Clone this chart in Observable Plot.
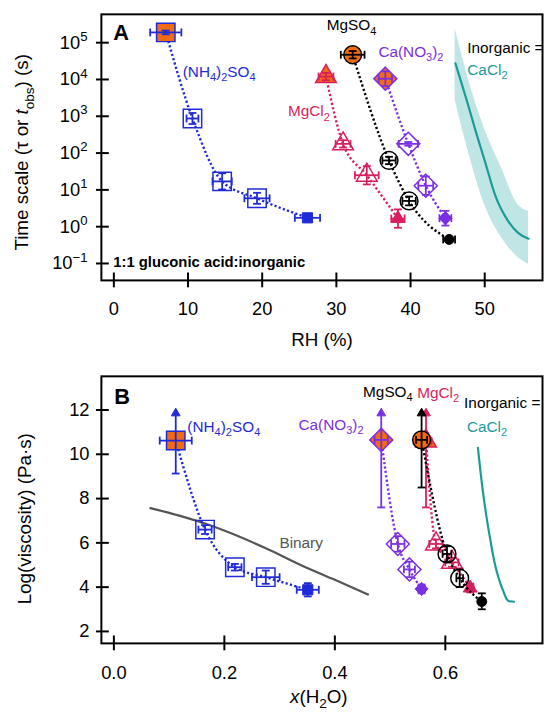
<!DOCTYPE html>
<html><head><meta charset="utf-8">
<script src="https://cdn.jsdelivr.net/npm/d3@7"></script>
<script src="https://cdn.jsdelivr.net/npm/@observablehq/plot@0.6"></script>
<style>
html,body{margin:0;padding:0;background:#fff;width:544px;height:713px;overflow:hidden;}
#wrap{position:relative;width:544px;height:713px;overflow:hidden;}
#a,#b{position:absolute;left:0;}
#a{top:0}
#b{top:362px}
</style></head><body><div id="wrap"><div id="a"></div><div id="b"></div></div>
<script>
// ================= DATA =================
const seriesNames = ["(NH4)2SO4", "MgCl2", "MgSO4", "Ca(NO3)2"];

// ---- Panel A: time scale (s) vs RH (%) ----
const rhNH4 = [7.0, 10.6, 14.6, 19.3, 26.1];
const tNH4 = [1.9e5, 870, 17, 5.9, 1.74];
const rhErrNH4 = [2.1, 0.8, 1.3, 1.7, 1.7];
const tErrDecNH4 = [0.05, 0.15, 0.22, 0.15, 0.05];

const rhMgCl2 = [28.6, 30.9, 34.1, 38.3];
const tMgCl2 = [1.2e4, 178, 25, 1.66];
const rhErrMgCl2 = [1.0, 1.0, 1.6, 0.9];
const tErrDecMgCl2 = [0.1, 0.1, 0.25, 0.25];

const rhMgSO4 = [32.2, 37.1, 39.8, 45.2];
const tMgSO4 = [4.7e4, 63, 5.0, 0.45];
const rhErrMgSO4 = [1.6, 0.9, 0.9, 0.8];
const tErrDecMgSO4 = [0.1, 0.1, 0.12, 0.05];

const rhCaNO3 = [36.6, 39.7, 42.05, 44.7];
const tCaNO3 = [1.05e4, 178, 13, 1.7];
const rhErrCaNO3 = [0.9, 1.3, 1.0, 0.8];
const tErrDecCaNO3 = [0.2, 0.05, 0.25, 0.2];

// CaCl2 (inorganic = CaCl2) prediction and its band
const rhCaCl2 = [46.05, 47.8, 48.7, 50.05, 51.4, 53.2, 54.5, 55.9];
const tCaCl2 = [2.75e4, 1.9e3, 447, 57.5, 7.2, 1.38, 0.68, 0.47];
const rhBand = [46.0, 47.8, 50.0, 52.3, 54.5, 55.9];
const tBandHi = [2.45e5, 1.0e4, 447, 38, 3.9, 2.63];
const tBandLo = [2880, 107, 3.9, 0.49, 0.145, 0.095];

const xTicksA = [0, 10, 20, 30, 40, 50];
const yTicksA = [1e-1, 1, 10, 1e2, 1e3, 1e4, 1e5];

// ---- Panel B: log(viscosity) vs x(H2O) ----
const xwNH4 = [0.112, 0.165, 0.219, 0.275, 0.351];
const etaNH4 = [10.62, 6.6, 4.9, 4.45, 3.88];
const xwErrNH4 = [0.029, 0.012, 0.012, 0.025, 0.02];
const etaLoNH4 = [9.13, 6.4, 4.75, 4.15, 3.58];
const etaHiNH4 = [11.85, 6.8, 5.05, 4.75, 4.18];

const xwMgCl2 = [0.565, 0.583, 0.612, 0.645];
const etaMgCl2 = [10.6, 5.95, 5.12, 3.96];
const xwErrMgCl2 = [0.01, 0.012, 0.012, 0.006];
const etaLoMgCl2 = [7.6, 5.75, 4.92, 3.76];
const etaHiMgCl2 = [11.85, 6.15, 5.32, 4.16];

const xwMgSO4 = [0.557, 0.603, 0.626, 0.666];
const etaMgSO4 = [10.65, 5.5, 4.4, 3.35];
const xwErrMgSO4 = [0.01, 0.008, 0.006, 0.005];
const etaLoMgSO4 = [8.5, 5.15, 4.0, 3.0];
const etaHiMgSO4 = [11.85, 5.85, 4.8, 3.72];

const xwCaNO3 = [0.484, 0.514, 0.535, 0.557];
const etaCaNO3 = [10.65, 5.95, 4.8, 3.92];
const xwErrCaNO3 = [0.012, 0.012, 0.01, 0.006];
const etaLoCaNO3 = [7.6, 5.6, 4.45, 3.72];
const etaHiCaNO3 = [11.85, 6.3, 5.15, 4.12];

const xwCaCl2 = [0.659, 0.669, 0.681, 0.693, 0.705, 0.714, 0.7245];
const etaCaCl2 = [10.29, 8.13, 6.2, 4.71, 3.82, 3.37, 3.34];
const xwBinary = [0.066, 0.12, 0.165, 0.22, 0.278, 0.34, 0.40, 0.46];
const etaBinary = [7.57, 7.22, 6.87, 6.35, 5.72, 4.98, 4.33, 3.67];

const xTicksB = [0, 0.2, 0.4, 0.6];
const yTicksB = [2, 4, 6, 8, 10, 12];

// ================= STYLE =================
const FONT = '"Liberation Sans", Arial, Helvetica, sans-serif';
const ORANGE = "#f26a12";
const TEAL = "#1b9b97";
const TEAL_BAND = "#bfe5e4";
const GRAY = "#555555";
const TICK_FS = 18.5, TITLE_FS = 19;
const colorOf = {"(NH4)2SO4": "#1f2bd6", "MgCl2": "#d81f5d", "MgSO4": "#000000", "Ca(NO3)2": "#7b2fe3"};
const symbolOf = {"(NH4)2SO4": "square", "MgCl2": "triangle", "MgSO4": "circle", "Ca(NO3)2": "diamond2"};
const rBigOf = {"(NH4)2SO4": 10.5, "MgCl2": 7.8, "MgSO4": 9, "Ca(NO3)2": 10.5};
const rSmallOf = {"(NH4)2SO4": 5.8, "MgCl2": 5.2, "MgSO4": 5, "Ca(NO3)2": 6};
const hcap = {draw(ctx, size) { const w = Math.sqrt(size) / 2; ctx.moveTo(-w, 0); ctx.lineTo(w, 0); }};
const vcap = {draw(ctx, size) { const w = Math.sqrt(size) / 2; ctx.moveTo(0, -w); ctx.lineTo(0, w); }};

const kindOf = (i, n) => i === 0 ? "orange" : i === n - 1 ? "filled" : "open";

function rowsA(salt, rh, t, xe, ye) {
  return rh.map((v, i) => ({salt, x: v, y: t[i], x1: v - xe[i], x2: v + xe[i],
    y1: t[i] / 10 ** ye[i], y2: t[i] * 10 ** ye[i], kind: kindOf(i, rh.length)}));
}
function rowsB(salt, xw, eta, xe, lo, hi) {
  return xw.map((v, i) => ({salt, x: v, y: eta[i], x1: v - xe[i], x2: v + xe[i],
    y1: lo[i], y2: hi[i], kind: kindOf(i, xw.length)}));
}

const dataA = {
  "(NH4)2SO4": rowsA("(NH4)2SO4", rhNH4, tNH4, rhErrNH4, tErrDecNH4),
  "MgCl2": rowsA("MgCl2", rhMgCl2, tMgCl2, rhErrMgCl2, tErrDecMgCl2),
  "MgSO4": rowsA("MgSO4", rhMgSO4, tMgSO4, rhErrMgSO4, tErrDecMgSO4),
  "Ca(NO3)2": rowsA("Ca(NO3)2", rhCaNO3, tCaNO3, rhErrCaNO3, tErrDecCaNO3)
};
const dataB = {
  "(NH4)2SO4": rowsB("(NH4)2SO4", xwNH4, etaNH4, xwErrNH4, etaLoNH4, etaHiNH4),
  "MgCl2": rowsB("MgCl2", xwMgCl2, etaMgCl2, xwErrMgCl2, etaLoMgCl2, etaHiMgCl2),
  "MgSO4": rowsB("MgSO4", xwMgSO4, etaMgSO4, xwErrMgSO4, etaLoMgSO4, etaHiMgSO4),
  "Ca(NO3)2": rowsB("Ca(NO3)2", xwCaNO3, etaCaNO3, xwErrCaNO3, etaLoCaNO3, etaHiCaNO3)
};

function seriesMarks(rows, salt, arrows) {
  const c = colorOf[salt], sym = symbolOf[salt];
  const ms = [];
  ms.push(Plot.line(rows, {x: "x", y: "y", stroke: c, strokeWidth: 2.4, strokeDasharray: "2.2,2.3",
    strokeLinecap: "butt", curve: "monotone-x"}));
  const orange = rows.filter(d => d.kind === "orange");
  const open = rows.filter(d => d.kind === "open");
  const filled = rows.filter(d => d.kind === "filled");
  ms.push(Plot.dot(orange, {x: "x", y: "y", symbol: sym, r: rBigOf[salt], fill: ORANGE, stroke: c, strokeWidth: 1.5}));
  ms.push(Plot.dot(open, {x: "x", y: "y", symbol: sym, r: rBigOf[salt], fill: "none", stroke: c, strokeWidth: 1.5}));
  ms.push(Plot.dot(filled, {x: "x", y: "y", symbol: sym, r: rSmallOf[salt], fill: c, stroke: c, strokeWidth: 1}));
  // error bars
  ms.push(Plot.ruleX(rows, {x: "x", y1: "y1", y2: "y2", stroke: c, strokeWidth: 1.8}));
  ms.push(Plot.ruleY(rows, {y: "y", x1: "x1", x2: "x2", stroke: c, strokeWidth: 1.8}));
  ms.push(Plot.dot(rows, {x: "x1", y: "y", symbol: vcap, r: 4.5, stroke: c, strokeWidth: 1.8}));
  ms.push(Plot.dot(rows, {x: "x2", y: "y", symbol: vcap, r: 4.5, stroke: c, strokeWidth: 1.8}));
  ms.push(Plot.dot(rows, {x: "x", y: "y1", symbol: hcap, r: 4.5, stroke: c, strokeWidth: 1.8}));
  if (arrows) {
    ms.push(Plot.dot(open.concat(filled), {x: "x", y: "y2", symbol: hcap, r: 4.5, stroke: c, strokeWidth: 1.8}));
    ms.push(Plot.dot(orange, {x: "x", y: "y2", symbol: "triangle", r: 3.3, fill: c, stroke: c, strokeWidth: 1}));
  } else {
    ms.push(Plot.dot(rows, {x: "x", y: "y2", symbol: hcap, r: 4.5, stroke: c, strokeWidth: 1.8}));
  }
  return ms;
}

// annotation labels (data coordinates)
const labelsA = [
  {text: "(NH_{4})_{2}SO_{4}", x: 14.2, y: 1.62e4, color: colorOf["(NH4)2SO4"], anchor: "middle"},
  {text: "MgSO_{4}", x: 32.05, y: 2.95e5, color: "#000", anchor: "middle"},
  {text: "Ca(NO_{3})_{2}", x: 40.05, y: 5.6e4, color: colorOf["Ca(NO3)2"], anchor: "middle"},
  {text: "MgCl_{2}", x: 26.3, y: 1350, color: colorOf["MgCl2"], anchor: "middle"},
  {text: "Inorganic =", x: 47.65, y: 7.1e4, color: "#000", anchor: "start"},
  {text: "CaCl_{2}", x: 47.65, y: 1.8e4, color: TEAL, anchor: "start"}
];
const labelsB = [
  {text: "(NH_{4})_{2}SO_{4}", x: 0.133, y: 11.25, color: colorOf["(NH4)2SO4"], anchor: "start"},
  {text: "Ca(NO_{3})_{2}", x: 0.393, y: 11.33, color: colorOf["Ca(NO3)2"], anchor: "middle"},
  {text: "MgSO_{4}", x: 0.496, y: 12.8, color: "#000", anchor: "middle"},
  {text: "MgCl_{2}", x: 0.587, y: 12.76, color: colorOf["MgCl2"], anchor: "middle"},
  {text: "Inorganic =", x: 0.634, y: 12.31, color: "#000", anchor: "start"},
  {text: "CaCl_{2}", x: 0.639, y: 11.24, color: TEAL, anchor: "start"},
  {text: "Binary", x: 0.339, y: 5.97, color: GRAY, anchor: "middle"}
];

function labelMarks(labels) {
  return ["start", "middle"].map(a => Plot.text(labels.filter(d => d.anchor === a),
    {x: "x", y: "y", text: "text", fill: "color", textAnchor: a, fontSize: 15.5}));
}

const supDigits = n => String(n).replace("-", "\u2212");

// ================= PANEL A =================
const bandRows = rhBand.map((v, i) => ({x: v, lo: tBandLo[i], hi: tBandHi[i]}));
const cacl2A = rhCaCl2.map((v, i) => ({x: v, y: tCaCl2[i]}));

const marksA = [
  Plot.areaY(bandRows, {x: "x", y1: "lo", y2: "hi", fill: TEAL_BAND, curve: "monotone-x"}),
  Plot.line(cacl2A, {x: "x", y: "y", stroke: TEAL, strokeWidth: 2.2, curve: "monotone-x"})
];
for (const s of seriesNames) marksA.push(...seriesMarks(dataA[s], s, false));
marksA.push(
  Plot.frame({stroke: "#000", strokeWidth: 2}),
  Plot.axisX(xTicksA, {tickSize: 15, dy: -7.5, fill: "none", label: null, strokeWidth: 2}),
  Plot.axisX(xTicksA, {tickSize: 0, tickPadding: 22, fontSize: TICK_FS, label: null}),
  Plot.axisY(yTicksA, {tickSize: 13, dx: 8, fill: "none", label: null, strokeWidth: 2}),
  Plot.axisY(yTicksA, {tickSize: 0, tickPadding: 14, fontSize: TICK_FS, label: null,
    tickFormat: d => "10^{" + supDigits(Math.round(Math.log10(d))) + "}"}),
  ...labelMarks(labelsA),
  Plot.text(["1:1 gluconic acid:inorganic"], {frameAnchor: "bottom-left", textAnchor: "start", lineAnchor: "middle", dx: 12, dy: -18, fontSize: 15, fontWeight: "bold"}),
  Plot.text(["A"], {frameAnchor: "top-left", textAnchor: "start", lineAnchor: "middle", dx: 12, dy: 19, fontSize: 22, fontWeight: "bold"}),
  Plot.text(["RH (%)"], {frameAnchor: "bottom", textAnchor: "middle", lineAnchor: "middle", dy: 60, fontSize: TITLE_FS}),
  Plot.text(["Time scale (\u03c4 or ~{t}_{obs}) (s)"], {frameAnchor: "left", textAnchor: "middle", lineAnchor: "middle", rotate: -90, dx: -80, dy: 5, fontSize: TITLE_FS})
);

const plotA = Plot.plot({
  width: 550, height: 362,
  marginTop: 14, marginLeft: 102, marginRight: 2, marginBottom: 79,
  x: {domain: [-1.68, 57.79], axis: null, label: null},
  y: {type: "log", domain: [10 ** -1.46, 10 ** 5.77], axis: null, label: null},
  color: {type: "identity"},
  style: {fontFamily: FONT, background: "transparent", overflow: "visible"},
  marks: marksA
});

// ================= PANEL B =================
const cacl2B = xwCaCl2.map((v, i) => ({x: v, y: etaCaCl2[i]}));
const binaryB = xwBinary.map((v, i) => ({x: v, y: etaBinary[i]}));
const marksB = [
  Plot.line(binaryB, {x: "x", y: "y", stroke: GRAY, strokeWidth: 2.2, curve: "monotone-x"}),
  Plot.line(cacl2B, {x: "x", y: "y", stroke: TEAL, strokeWidth: 2.2, curve: "monotone-y"})
];
for (const s of seriesNames) marksB.push(...seriesMarks(dataB[s], s, true));
marksB.push(
  Plot.frame({stroke: "#000", strokeWidth: 2}),
  Plot.axisX(xTicksB, {tickSize: 15, dy: -7.5, fill: "none", label: null, strokeWidth: 2}),
  Plot.axisX(xTicksB, {tickSize: 0, tickPadding: 23, fontSize: TICK_FS, label: null, tickFormat: d3.format(".1f")}),
  Plot.axisY(yTicksB, {tickSize: 13, dx: 8, fill: "none", label: null, strokeWidth: 2}),
  Plot.axisY(yTicksB, {tickSize: 0, tickPadding: 12, fontSize: TICK_FS, label: null}),
  ...labelMarks(labelsB),
  Plot.text(["B"], {frameAnchor: "top-left", textAnchor: "start", lineAnchor: "middle", dx: 13, dy: 21, fontSize: 22, fontWeight: "bold"}),
  Plot.text(["~{x}(H_{2}O)"], {x: [0.371], frameAnchor: "bottom", textAnchor: "middle", lineAnchor: "middle", dy: 54, fontSize: TITLE_FS}),
  Plot.text(["Log(viscosity) (Pa\u00b7s)"], {frameAnchor: "left", textAnchor: "middle", lineAnchor: "middle", rotate: -90, dx: -77, dy: 9, fontSize: TITLE_FS})
);

const plotB = Plot.plot({
  width: 550, height: 351,
  marginTop: 14, marginLeft: 102, marginRight: 2, marginBottom: 67,
  x: {domain: [-0.0226, 0.7759], axis: null, label: null},
  y: {domain: [1.46, 13.52], axis: null, label: null},
  color: {type: "identity"},
  style: {fontFamily: FONT, background: "transparent", overflow: "visible"},
  marks: marksB
});

document.getElementById("a").appendChild(plotA);
document.getElementById("b").appendChild(plotB);

// rich text: _{sub}, ^{sup}, ~{italic}
function richify(root) {
  const NS = "http://www.w3.org/2000/svg";
  root.querySelectorAll("text").forEach(el => {
    const s = el.textContent;
    if (!/[_^~]\{/.test(s)) return;
    const fs = parseFloat(getComputedStyle(el).fontSize) || 16;
    while (el.firstChild) el.removeChild(el.firstChild);
    const re = /([_^~])\{([^}]*)\}|([^_^~]+)/g;
    let m, shift = 0;
    while ((m = re.exec(s)) !== null) {
      const t = document.createElementNS(NS, "tspan");
      let target = 0;
      if (m[1] === "_") { target = 0.28 * fs; t.setAttribute("font-size", (0.72 * fs) + "px"); t.textContent = m[2]; }
      else if (m[1] === "^") { target = -0.42 * fs; t.setAttribute("font-size", (0.72 * fs) + "px"); t.textContent = m[2]; }
      else if (m[1] === "~") { t.setAttribute("font-style", "italic"); t.textContent = m[2]; }
      else t.textContent = m[3];
      if (target - shift !== 0) t.setAttribute("dy", (target - shift) + "px");
      shift = target;
      el.appendChild(t);
    }
  });
}
richify(plotA);
richify(plotB);
</script></body></html>
